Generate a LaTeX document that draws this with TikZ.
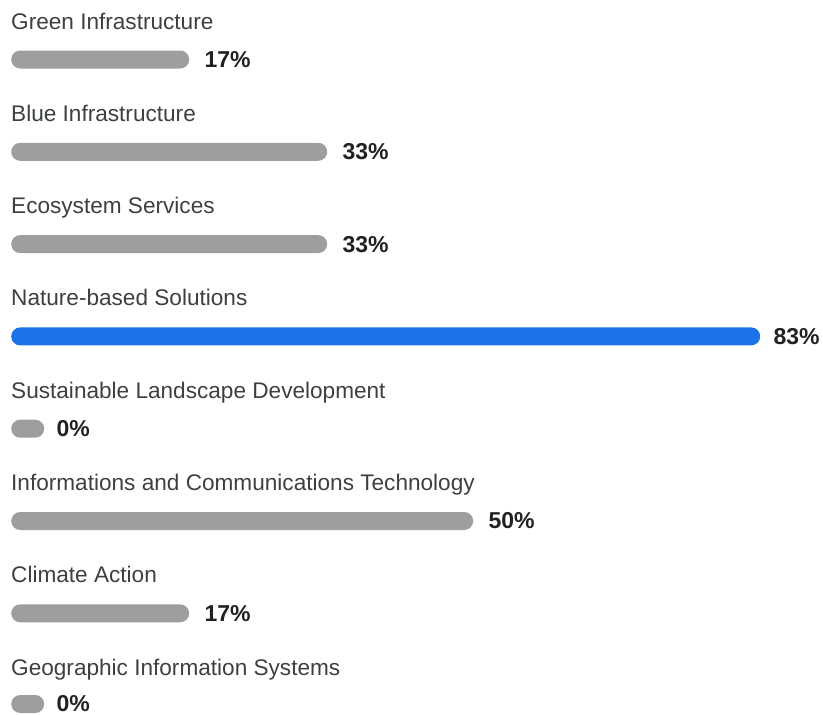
\documentclass[tikz,border=0pt]{standalone}
\usepackage{fontspec}
\setmainfont{Liberation Sans}
\usetikzlibrary{positioning}
\definecolor{bargray}{HTML}{9E9E9E}
\definecolor{barblue}{HTML}{1A73E8}
\definecolor{topictext}{HTML}{3C4043}
\definecolor{pcttext}{HTML}{202124}
\tikzset{
	topic/.style={anchor=base west, inner sep=0pt, text=topictext, font=\fontsize{22.6}{26}\selectfont},
	bar/.style={anchor=west, fill=bargray, rounded corners=9pt, minimum height=18pt, inner sep=0pt},
	hibar/.style={bar, fill=barblue},
	pct/.style={inner sep=0pt, text=pcttext, font=\fontsize{23}{26}\selectfont\bfseries}
}
\begin{document}
\begin{tikzpicture}[x=1pt,y=-1pt]
		\useasboundingbox (0,0) rectangle (823,715);
		% green infrastructure
		\node[topic] (tgreen) at (11,29) {Green Infrastructure};
		\node[bar, minimum width=178pt] (bgreen) at (11,59.5) {};
		\node[pct, right=15pt of bgreen] (pgreen) {17\%};
		% blue infrastructure
		\node[topic] (tblue) at (11,121.3) {Blue Infrastructure};
		\node[bar, minimum width=316pt] (bblue) at (11,151.8) {};
		\node[pct, right=15pt of bblue] (pblue) {33\%};
		% ecosystem services
		\node[topic] (teco) at (11,213.6) {Ecosystem Services};
		\node[bar, minimum width=316pt] (beco) at (11,244.1) {};
		\node[pct, right=15pt of beco] (peco) {33\%};
		% nature-based solutions
		\node[topic] (tnbs) at (11,305.9) {Nature-based Solutions};
		\node[hibar, minimum width=749pt] (bnbs) at (11,336.4) {};
		\node[pct, right=13pt of bnbs] (pnbs) {83\%};
		% sustainable landscape development
		\node[topic] (tsld) at (11,398.2) {Sustainable Landscape Development};
		\node[bar, minimum width=33pt] (bsld) at (11,428.7) {};
		\node[pct, right=12pt of bsld] (psld) {0\%};
		% ict
		\node[topic] (tict) at (11,490.5) {Informations and Communications Technology};
		\node[bar, minimum width=462pt] (bict) at (11,521) {};
		\node[pct, right=15pt of bict] (pict) {50\%};
		% climate action
		\node[topic] (tclim) at (11,582.8) {Climate Action};
		\node[bar, minimum width=178pt] (bclim) at (11,613.3) {};
		\node[pct, right=15pt of bclim] (pclim) {17\%};
		% gis
		\node[topic] (tgis) at (11,675.1) {Geographic Information Systems};
		\node[bar, minimum width=33pt] (bgis) at (11,704) {};
		\node[pct, right=12pt of bgis] (pgis) {0\%};
\end{tikzpicture}
\end{document}
